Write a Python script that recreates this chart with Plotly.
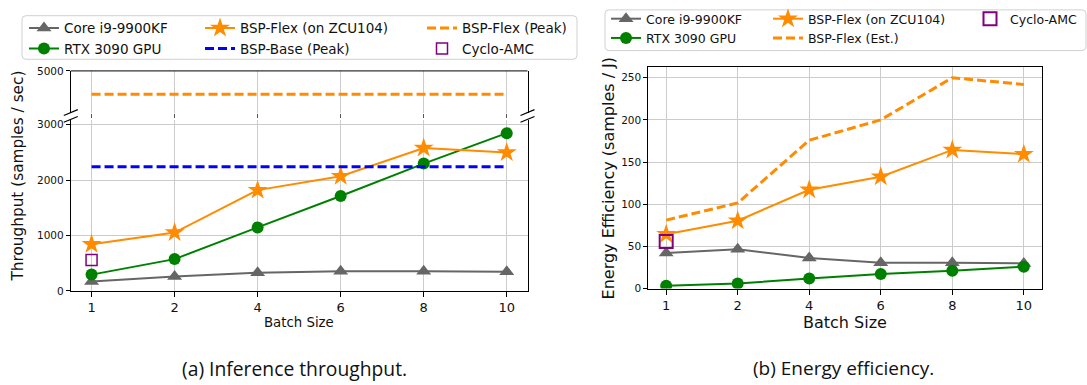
import plotly.graph_objects as go

# ---------------- data ----------------
batch_labels = ["1", "2", "4", "6", "8", "10"]

tp_cpu = [170, 258, 328, 356, 356, 345]
tp_gpu = [293, 573, 1146, 1713, 2298, 2848]
tp_flex = [842, 1053, 1819, 2070, 2579, 2497]
tp_flex_peak = [4580, 4580, 4580, 4580, 4580, 4580]
tp_base_peak = [2240, 2240, 2240, 2240, 2240, 2240]
tp_cyclo_x = ["1"]
tp_cyclo = [556]

ee_cpu = [42.1, 46.7, 36.4, 30.7, 30.7, 29.9]
ee_gpu = [3.4, 6.1, 11.9, 17.2, 21.1, 26.0]
ee_flex = [64.4, 80.5, 117.2, 132.6, 164.4, 159.4]
ee_flex_est = [81.2, 101.5, 175.9, 200.0, 250.0, 242.0]
ee_cyclo_x = ["1"]
ee_cyclo = [55.9]

left_y_ticks_low = [0, 1000, 2000, 3000]
left_y_ticks_high = [5000]
right_y_ticks = [0, 50, 100, 150, 200, 250]

# ---------------- geometry helpers ----------------
W, H = 1087, 385


def px(v):
    return v / W


def py(v):
    return 1 - v / H


C_CPU = "#666666"
C_GPU = "#008000"
C_FLEX = "#FF8C00"
C_BASE = "#0000FF"
C_CYC = "#800080"
FONT = "DejaVu Sans"

fig = go.Figure()

# ---------- left chart (lower panel: x / y, upper panel: x2 / y2) ----------
fig.add_trace(go.Scatter(x=batch_labels, y=tp_cpu, mode="lines+markers", name="Core i9-9900KF",
                         line=dict(color=C_CPU, width=2), marker=dict(symbol="triangle-up", size=13, color=C_CPU),
                         xaxis="x", yaxis="y", legend="legend"))
fig.add_trace(go.Scatter(x=batch_labels, y=tp_gpu, mode="lines+markers", name="RTX 3090 GPU",
                         line=dict(color=C_GPU, width=2), marker=dict(symbol="circle", size=12, color=C_GPU),
                         xaxis="x", yaxis="y", legend="legend"))
fig.add_trace(go.Scatter(x=batch_labels, y=tp_flex, mode="lines+markers", name="BSP-Flex (on ZCU104)",
                         line=dict(color=C_FLEX, width=2), marker=dict(symbol="star", size=15, color=C_FLEX),
                         xaxis="x", yaxis="y", legend="legend2"))
fig.add_trace(go.Scatter(x=batch_labels, y=tp_base_peak, mode="lines", name="BSP-Base (Peak)",
                         line=dict(color=C_BASE, width=3, dash="9px,4px"),
                         xaxis="x", yaxis="y", legend="legend2"))
fig.add_trace(go.Scatter(x=batch_labels, y=tp_flex_peak, mode="lines", name="BSP-Flex (Peak)",
                         line=dict(color=C_FLEX, width=3, dash="9px,4px"),
                         xaxis="x2", yaxis="y2", legend="legend3"))
fig.add_trace(go.Scatter(x=tp_cyclo_x, y=tp_cyclo, mode="markers", name="Cyclo-AMC",
                         marker=dict(symbol="square-open", size=11, color=C_CYC, line=dict(width=1.5, color=C_CYC)),
                         xaxis="x", yaxis="y", legend="legend3"))

# ---------- right chart (x3 / y3) ----------
fig.add_trace(go.Scatter(x=batch_labels, y=ee_cpu, mode="lines+markers", name="Core i9-9900KF",
                         line=dict(color=C_CPU, width=2), marker=dict(symbol="triangle-up", size=13, color=C_CPU),
                         xaxis="x3", yaxis="y3", legend="legend4"))
fig.add_trace(go.Scatter(x=batch_labels, y=ee_gpu, mode="lines+markers", name="RTX 3090 GPU",
                         line=dict(color=C_GPU, width=2), marker=dict(symbol="circle", size=12, color=C_GPU),
                         xaxis="x3", yaxis="y3", legend="legend4"))
fig.add_trace(go.Scatter(x=batch_labels, y=ee_flex_est, mode="lines", name="BSP-Flex (Est.)",
                         line=dict(color=C_FLEX, width=3, dash="9px,4px"),
                         xaxis="x3", yaxis="y3", legend="legend5", legendrank=2))
fig.add_trace(go.Scatter(x=batch_labels, y=ee_flex, mode="lines+markers", name="BSP-Flex (on ZCU104)",
                         line=dict(color=C_FLEX, width=2), marker=dict(symbol="star", size=15, color=C_FLEX),
                         xaxis="x3", yaxis="y3", legend="legend5", legendrank=1))
fig.add_trace(go.Scatter(x=ee_cyclo_x, y=ee_cyclo, mode="markers", name="Cyclo-AMC",
                         marker=dict(symbol="square-open", size=13, color=C_CYC, line=dict(width=2, color=C_CYC)),
                         xaxis="x3", yaxis="y3", legend="legend6"))

# ---------- axes ----------
grid = "#cccccc"
tickfont_x = dict(family=FONT, size=13, color="#111")
tickfont_y = dict(family=FONT, size=10.5, color="#111")

LX0, LX1 = 70.8, 527.5
RX0, RX1 = 648.3, 1041.7
xr = [-0.25, 5.25]

common_x = dict(type="category", categoryorder="array", categoryarray=batch_labels, range=xr,
                showgrid=True, gridcolor=grid, gridwidth=1, zeroline=False)

fig.update_layout(
    xaxis=dict(**common_x, domain=[px(LX0), px(LX1)], anchor="y",
               showline=True, linecolor="black", linewidth=1, ticks="outside", ticklen=5,
               tickcolor="black", tickfont=tickfont_x),
    yaxis=dict(domain=[py(294), py(118)], anchor="x", range=[0, 3080], tickvals=left_y_ticks_low,
               showgrid=True, gridcolor=grid, zeroline=False, showline=True, mirror=True,
               linecolor="black", linewidth=1, ticks="outside", ticklen=4, tickcolor="black",
               tickfont=tickfont_y),
    xaxis2=dict(**common_x, domain=[px(LX0), px(LX1)], anchor="y2",
                showline=False, ticks="outside", ticklen=4, tickcolor="#555", showticklabels=False),
    yaxis2=dict(domain=[py(110), py(67)], anchor="x2", range=[4250, 5000], tickvals=left_y_ticks_high,
                showgrid=True, gridcolor=grid, zeroline=False, showline=True, mirror=True,
                linecolor="black", linewidth=1, ticks="outside", ticklen=4, tickcolor="black",
                tickfont=tickfont_y),
    xaxis3=dict(**common_x, domain=[px(RX0), px(RX1)], anchor="y3",
                showline=True, mirror=True, linecolor="black", linewidth=1, ticks="outside", ticklen=5,
                tickcolor="black", tickfont=tickfont_x),
    yaxis3=dict(domain=[py(291.7), py(63.3)], anchor="x3", range=[0, 262.3], tickvals=right_y_ticks,
                showgrid=True, gridcolor=grid, zeroline=False, showline=True, mirror=True,
                linecolor="black", linewidth=1, ticks="outside", ticklen=4, tickcolor="black",
                tickfont=tickfont_y),
)

# ---------- legends (one per column) ----------
def leg(xp, yp, size):
    return dict(x=px(xp), y=py(yp), xanchor="left", yanchor="top", orientation="v",
                bgcolor="rgba(0,0,0,0)", borderwidth=0, tracegroupgap=0,
                font=dict(family=FONT, size=size, color="#111"))

fig.update_layout(
    legend=leg(24, 7, 13.5),
    legend2=leg(200, 7, 13.5),
    legend3=leg(422, 7, 13.5),
    legend4=leg(606, -2, 12.5),
    legend5=leg(768, -2, 12.5),
    legend6=leg(970, -2, 12.5),
)


def rounded_rect(x0, y0, x1, y1, r=4):
    X0, X1 = px(x0), px(x1)
    Y0, Y1 = py(y0), py(y1)
    rx, ry = r / W, r / H
    return (f"M {X0+rx},{Y0} L {X1-rx},{Y0} Q {X1},{Y0} {X1},{Y0-ry} "
            f"L {X1},{Y1+ry} Q {X1},{Y1} {X1-rx},{Y1} L {X0+rx},{Y1} "
            f"Q {X0},{Y1} {X0},{Y1+ry} L {X0},{Y0-ry} Q {X0},{Y0} {X0+rx},{Y0} Z")


shapes = [
    dict(type="path", xref="paper", yref="paper", path=rounded_rect(22, 10, 577, 55),
         line=dict(color="#d0d0d0", width=1), fillcolor="white", layer="below"),
    dict(type="path", xref="paper", yref="paper", path=rounded_rect(605, 4, 1086, 46),
         line=dict(color="#d0d0d0", width=1), fillcolor="white", layer="below"),
    # top spine of upper-left panel
    dict(type="line", xref="paper", yref="paper", x0=px(LX0), x1=px(LX1), y0=py(67), y1=py(67),
         line=dict(color="black", width=1)),
]
# break marks
for xs in (LX0, LX1):
    for yb in (110, 117):
        shapes.append(dict(type="line", xref="paper", yref="paper",
                           x0=px(xs - 7), y0=py(yb + 3), x1=px(xs + 7), y1=py(yb - 3),
                           line=dict(color="black", width=1.2)))
fig.update_layout(shapes=shapes)

# ---------- text ----------
def ann(text, x, y, size, family=FONT, angle=0):
    return dict(text=text, x=px(x), y=py(y), xref="paper", yref="paper", xanchor="center",
                yanchor="middle", textangle=angle, showarrow=False,
                font=dict(family=family, size=size, color="#111"))


annotations = [
    ann("Throughput (samples / sec)", 18, 176, 15.3, angle=-90),
    ann("Batch Size", (LX0 + LX1) / 2, 327, 13.3),
    ann("Energy Efficiency (samples / J)", 608, 178, 16, angle=-90),
    ann("Batch Size", (RX0 + RX1) / 2, 327, 16),
    ann("(a) Inference throughput.", 294, 374, 19.3, family="Open Sans"),
    ann("(b) Energy efficiency.", 843, 374, 19, family="Open Sans"),
]
fig.update_layout(annotations=annotations)

fig.update_layout(width=W, height=H, autosize=False, margin=dict(l=0, r=0, t=0, b=0, pad=0),
                  paper_bgcolor="white", plot_bgcolor="white", showlegend=True,
                  font=dict(family=FONT))

fig.write_html("out.html", config={"displayModeBar": False},
               post_script="document.body.style.margin='0';document.body.style.overflow='hidden';")
